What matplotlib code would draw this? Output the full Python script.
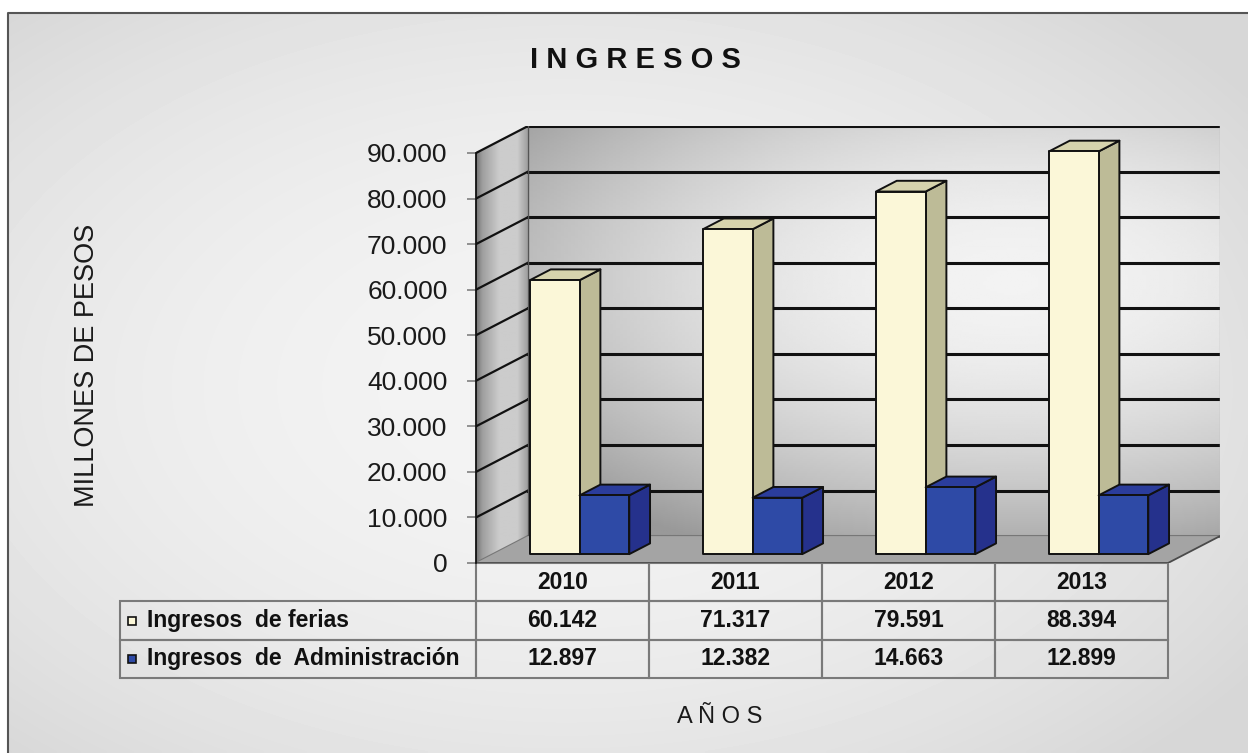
import matplotlib.pyplot as plt
import numpy as np
from matplotlib.patches import Polygon, Rectangle
from matplotlib.ticker import FuncFormatter

plt.rcParams['font.family'] = ['Liberation Sans', 'DejaVu Sans']

# data
years = ['2010', '2011', '2012', '2013']
ferias = [60142, 71317, 79591, 88394]
admin = [12897, 12382, 14663, 12899]
series_names = ['Ingresos  de ferias', 'Ingresos  de  Administración']
yticks = list(range(0, 90001, 10000))

def fmt(v, pos=None):
    return f"{int(v):,}".replace(',', '.')

W, H = 1248, 753
fig = plt.figure(figsize=(W / 100, H / 100), dpi=100, facecolor='white')

# page background with soft gradient and frame
bg = fig.add_axes([0, 0, 1, 1], zorder=-10)
yy, xx = np.mgrid[0:H:4, 0:W:4]
r2 = ((xx - 560) / 900) ** 2 + ((yy - 380) / 560) ** 2
bg.imshow(np.clip(0.955 - 0.13 * r2, 0.84, 0.955), cmap='gray', vmin=0, vmax=1,
          extent=[8, W, H, 13], aspect='auto', interpolation='bilinear')
bg.plot([8, 8, W], [H, 13, 13], color='#555555', lw=1.5)
bg.set_xlim(0, W)
bg.set_ylim(H, 0)
bg.axis('off')

# 3d-ish plot area
DX, DY = 0.30, 5900          # depth shift (categories, values)
YMAX = 90000
x0px, y0px = 476, 563        # front bottom-left corner in pixels
cat_px = 173
val_px = 410 / YMAX
ax_w = (4 + DX) * cat_px
ax_h = (YMAX + DY) * val_px
ax = fig.add_axes([x0px / W, (H - y0px) / H, ax_w / W, ax_h / H])
ax.patch.set_alpha(0)

def P(x, v, d):
    return (x + d * DX, v + d * DY)

# back wall
u, v = np.meshgrid(np.linspace(0, 1, 200), np.linspace(1, 0, 200))
rr = ((u - 0.7) / 0.75) ** 2 + ((v - 0.62) / 0.6) ** 2
ax.imshow(np.clip(0.95 - 0.24 * rr, 0.6, 0.95), cmap='gray', vmin=0, vmax=1,
          extent=[DX, 4 + DX, DY, YMAX + DY], aspect='auto', interpolation='bilinear', zorder=1)

# left wall
lw_poly = Polygon([P(0, 0, 0), P(0, 0, 1), P(0, YMAX, 1), P(0, YMAX, 0)], closed=True,
                  facecolor='none', edgecolor='none', transform=ax.transData)
ax.add_patch(lw_poly)
d = np.linspace(0, 1, 100)
prof = np.interp(d, [0, 0.12, 0.45, 0.8, 1.0], [0.45, 0.62, 0.8, 0.8, 0.62])
im = ax.imshow(np.tile(prof, (50, 1)), cmap='gray', vmin=0, vmax=1,
               extent=[0, DX, 0, YMAX + DY], aspect='auto', interpolation='bilinear', zorder=1)
im.set_clip_path(lw_poly)

# gridlines
for t in yticks:
    c = '#111111' if t > 0 else '#777777'
    ax.plot([P(0, t, 0)[0], P(0, t, 1)[0]], [P(0, t, 0)[1], P(0, t, 1)[1]], color=c, lw=1.6, zorder=2)
    ax.plot([P(0, t, 1)[0], P(4, t, 1)[0]], [P(0, t, 1)[1], P(4, t, 1)[1]], color=c, lw=2.2, zorder=2)
ax.plot([P(0, YMAX, 1)[0], P(0, 0, 1)[0]], [P(0, YMAX, 1)[1], P(0, 0, 1)[1]], color='#555555', lw=1, zorder=2)
ax.plot([P(4, YMAX, 1)[0], P(4, 0, 1)[0]], [P(4, YMAX, 1)[1], P(4, 0, 1)[1]], color='#bbbbbb', lw=1, zorder=2)

# floor
floor = [P(0, 0, 0), P(4, 0, 0), P(4, 0, 1), P(0, 0, 1)]
ax.fill([p[0] for p in floor], [p[1] for p in floor], facecolor='#a4a4a4', edgecolor='none', zorder=3)
ax.plot([P(0, 0, 0)[0], P(4, 0, 0)[0], P(4, 0, 1)[0]], [P(0, 0, 0)[1], P(4, 0, 0)[1], P(4, 0, 1)[1]],
        color='#4a4a4a', lw=1.3, zorder=3)

# bars
bw = 0.287
DF, DB = 0.33, 0.73
yellow = ('#fbf7d8', '#bdbb97', '#d6d3ad')
blue = ('#2e4aa6', '#25318c', '#2b3d9c')

def draw_box(x0, x1, val, cols, z):
    front = [P(x0, 0, DF), P(x1, 0, DF), P(x1, val, DF), P(x0, val, DF)]
    side = [P(x1, 0, DF), P(x1, 0, DB), P(x1, val, DB), P(x1, val, DF)]
    top = [P(x0, val, DF), P(x1, val, DF), P(x1, val, DB), P(x0, val, DB)]
    for poly, col in ((side, cols[1]), (top, cols[2]), (front, cols[0])):
        ax.fill([p[0] for p in poly], [p[1] for p in poly], facecolor=col,
                edgecolor='#111111', lw=1.4, joinstyle='round', zorder=z)

for i in range(len(years)):
    xa = i + (1 - 2 * bw) / 2
    draw_box(xa, xa + bw, ferias[i], yellow, 5 + 2 * i)
    draw_box(xa + bw, xa + 2 * bw, admin[i], blue, 6 + 2 * i)

ax.set_xlim(0, 4 + DX)
ax.set_ylim(0, YMAX + DY)
ax.set_xticks([])
ax.set_yticks(yticks)
ax.yaxis.set_major_formatter(FuncFormatter(fmt))
ax.tick_params(axis='y', length=6.5, width=1.2, color='#808080', pad=14,
               labelsize=19, labelcolor='#1a1a1a')
for s in ('top', 'right', 'bottom'):
    ax.spines[s].set_visible(False)
ax.spines['left'].set_bounds(0, YMAX)
ax.spines['left'].set_color('#111111')
ax.spines['left'].set_linewidth(1.3)
ax.spines['left'].set_zorder(20)

# data table
label_px = x0px - 120
tbl_h_px = 115
cell_text = [[series_names[0]] + [fmt(x) for x in ferias],
             [series_names[1]] + [fmt(x) for x in admin]]
tbl = ax.table(cellText=cell_text, colLabels=[''] + years,
               colWidths=[label_px] + [cat_px] * 4, cellLoc='center',
               bbox=[-label_px / ax_w, -tbl_h_px / ax_h, (label_px + 4 * cat_px) / ax_w, tbl_h_px / ax_h])
tbl.auto_set_font_size(False)
for (row, col), cell in tbl.get_celld().items():
    cell.set_facecolor('none')
    cell.set_edgecolor('#7a7a7a')
    cell.set_linewidth(1.5)
    cell.get_text().set_fontsize(16.5)
    cell.get_text().set_fontweight('bold')
    cell.get_text().set_color('#111111')
    if col == 0:
        if row == 0:
            cell.set_visible(False)
        else:
            cell.PAD = 27 / label_px
            cell.get_text().set_ha('left')

# legend keys in row labels
row_h = tbl_h_px / 3
for k, cols in enumerate((yellow, blue)):
    cy = y0px + row_h * (1.5 + k)
    ax.add_patch(Rectangle(((128 - x0px) / ax_w, (y0px - cy - 4) / ax_h), 8 / ax_w, 8 / ax_h,
                           transform=ax.transAxes, facecolor=cols[0], edgecolor='#111111',
                           lw=1.2, clip_on=False, zorder=30))

# texts
fig.text(635 / W, 1 - 60 / H, 'I N G R E S O S', ha='center', va='center',
         fontsize=21, fontweight='bold', color='#111111')
fig.text(87 / W, 1 - 365 / H, 'MILLONES DE PESOS', ha='center', va='center',
         rotation=90, fontsize=19.5, color='#1a1a1a')
fig.text(720 / W, 1 - 717 / H, 'A Ñ O S', ha='center', va='center',
         fontsize=17, color='#1a1a1a')

fig.savefig('out.png', dpi=100)
